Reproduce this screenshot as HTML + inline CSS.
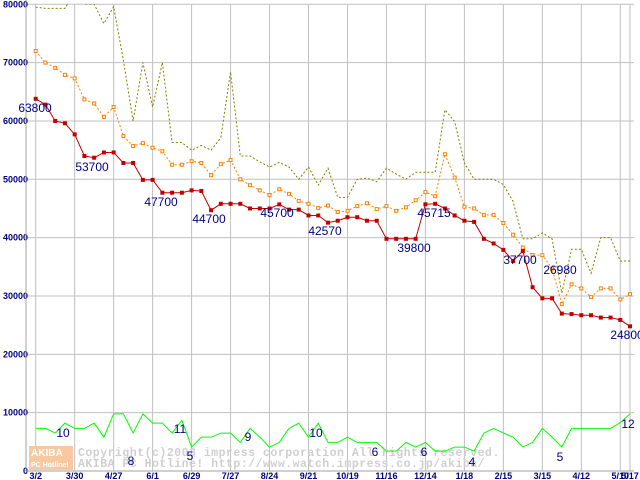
<!DOCTYPE html>
<html><head><meta charset="utf-8"><style>
html,body{margin:0;padding:0;background:#fff;width:640px;height:480px;overflow:hidden}
svg{display:block}
text{font-family:"Liberation Sans",sans-serif}
.ax{font-size:9px;font-weight:bold;fill:#000080}
.lb{font-size:12px;fill:#000080}
.wm{font-family:"Liberation Mono",monospace;font-size:11.5px;font-weight:bold;fill:#cfcfcf;letter-spacing:0.5px}
</style></head><body>
<svg id="chart" width="640" height="480"></svg>
<script>
const categories=["3/2","","","","3/30","","","","4/27","","","","6/1","","","","6/29","","","","7/27","","","","8/24","","","","9/21","","","","10/19","","","","11/16","","","","12/14","","","","1/18","","","","2/15","","","","3/15","","","","4/12","","","","5/10","5/17"];
const minPrice=[63800,62800,60000,59600,57700,54000,53700,54600,54600,52800,52800,49900,49900,47700,47700,47700,48100,48000,44700,45800,45800,45800,45000,45000,45000,45700,44800,44800,43800,43800,42570,42900,43500,43500,42900,42900,39800,39800,39800,39800,45715,45800,45000,43800,42900,42700,39800,39000,37900,36000,37700,31500,29600,29600,26980,26900,26700,26700,26300,26300,25900,24800];
const avgPrice=[72000,70000,69100,67900,67300,63700,63000,60700,62400,57400,55700,56200,55400,54800,52500,52500,53100,52800,50700,52600,53300,50000,49000,48100,47300,48300,47500,46300,45800,45100,45500,44400,44600,45400,45900,44900,45400,44600,45200,46400,47800,47100,54300,50300,45300,45000,43900,43900,42500,40500,38300,37000,37000,34700,28600,32000,31300,29800,31300,31300,29400,30300];
const maxPrice=[79500,79300,79300,79300,82000,80000,80000,76700,79600,70400,60000,70000,62400,70000,56300,56300,55000,55800,55000,57100,68400,54000,54000,53000,52100,52900,52100,50000,52100,49000,51900,46900,46900,50000,50200,49600,51900,50900,50000,51200,51200,51200,61900,59900,52800,50000,50000,50000,49100,46200,39800,39800,40800,39800,30500,38000,38000,33900,40000,40000,36000,36000];
const shopCount=[7300,7300,6500,8200,7300,7300,8200,5800,9800,9800,6500,9800,8200,8200,6500,8700,4100,5800,5800,6500,6500,4900,7300,5800,4100,4900,7300,8200,5800,8200,4900,4900,5800,4900,4900,4900,3400,3400,4900,4100,4900,3400,3400,4100,4100,3400,6500,7300,6500,5800,4100,4900,7300,5800,4100,7300,7300,7300,7300,7300,8300,9800];
const yTicks=[0,10000,20000,30000,40000,50000,60000,70000,80000];
const priceLabels=[[0,"63800",35,108],[6,"53700",92,167],[13,"47700",161,202],[18,"44700",209,219],[25,"45700",277,213],[30,"42570",325,231],[36,"39800",414,248],[40,"45715",434,213],[50,"37700",520,260],[54,"26980",560,270],[61,"24800",627,335]];
const countLabels=[["10",63,433],["8",131,461],["11",180,429],["5",190,456],["9",248,437],["10",316,433],["6",375,452],["6",424,452],["4",472,462],["5",560,457],["12",628,424]];

const NS="http://www.w3.org/2000/svg";
const svg=document.getElementById('chart');
const X0=35.7,DX=9.743,Y0=471,YS=58.34/10000;
const x=i=>X0+i*DX;
const y=v=>Y0-v*YS;
function mk(t,a,p){const e=document.createElementNS(NS,t);for(const k in a)e.setAttribute(k,a[k]);(p||svg).appendChild(e);return e;}
const defs=mk('defs',{});
const cp=mk('clipPath',{id:'pc'},defs);mk('rect',{x:26,y:y(80000),width:608,height:Y0-y(80000)},cp);

yTicks.forEach(v=>{
  const l=mk('line',{x1:26,x2:634,y1:y(v),y2:y(v),stroke:'#c0c0c0','stroke-width':1});
  
  
  const t=mk('text',{x:28,y:y(v)+3,'text-anchor':'end',class:'ax'});t.textContent=v;
  
  
});
categories.forEach((c,i)=>{
  if(!c)return;
  const l=mk('line',{x1:x(i),x2:x(i),y1:y(80000),y2:Y0,stroke:'#c0c0c0','stroke-width':1});
  
  
  const t=mk('text',{x:x(i),y:479,'text-anchor':'middle',class:'ax'});t.textContent=c;
  
  
});
const ax=mk('path',{d:`M26 0V${Y0}H634`,stroke:'#a0a0a0',fill:'none'});



const logo=mk('rect',{x:29,y:446,width:44,height:24,fill:'#f8c8a0'});


const lt=mk('text',{x:31,y:456,fill:'#fff','font-size':'10','font-weight':'bold'});lt.textContent='AKIBA';


const lt2=mk('text',{x:31,y:467,fill:'#fff','font-size':'7','font-weight':'bold'});lt2.textContent='PC Hotline!';


const w1=mk('text',{x:78,y:456,class:'wm'});w1.textContent='Copyright(c)2003 impress corporation All rights reserved.';


const w2=mk('text',{x:78,y:467,class:'wm'});w2.textContent='AKIBA PC Hotline!  http://www.watch.impress.co.jp/akiba/';



const g=mk('g',{'clip-path':'url(#pc)'});
function line(data,color,dash,name){
  const p=mk('polyline',{points:data.map((v,i)=>x(i)+','+y(v)).join(' '),fill:'none',stroke:color,'stroke-width':1,'stroke-dasharray':dash||''},g);
  
  
}
line(maxPrice,'#808000','2,2','max-price-line');
line(avgPrice,'#ff8000','2,2','avg-price-line');
avgPrice.forEach((v,i)=>{
  const r=mk('rect',{x:x(i)-1.5,y:y(v)-1.5,width:3,height:3,fill:'#fff',stroke:'#ff8000','stroke-width':1},g);
  
  
});
line(minPrice,'#c00000','','min-price-line');
minPrice.forEach((v,i)=>{
  const r=mk('rect',{x:x(i)-2,y:y(v)-2,width:4,height:4,fill:'#c00000'},g);
  
  
});
line(shopCount,'#00ff00','','shop-count-line');

priceLabels.forEach(p=>{
  const t=mk('text',{x:p[2],y:p[3]+4,'text-anchor':'middle',class:'lb'});t.textContent=p[1];
  
  
});
countLabels.forEach(p=>{
  const t=mk('text',{x:p[1],y:p[2]+4,'text-anchor':'middle',class:'lb'});t.textContent=p[0];
  
  
});
</script>
</body></html>
